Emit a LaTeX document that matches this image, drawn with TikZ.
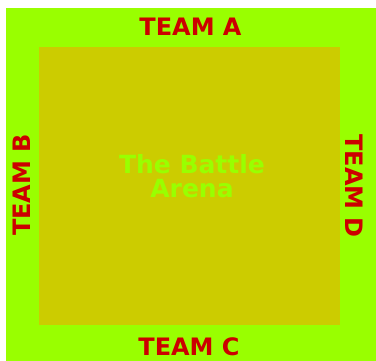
\documentclass[tikz,border=0pt]{standalone}
\usepackage{fontspec}
\setmainfont{DejaVu Sans}
\definecolor{FieldGreen}{RGB}{153, 255, 0}
\definecolor{ArenaOlive}{RGB}{204, 204, 0}
\definecolor{TeamRed}{RGB}{204, 0, 0}
\usepackage{tikz}
\usetikzlibrary{positioning}

\begin{document}
\begin{tikzpicture}[
    x=1pt, y=1pt,
    zone/.style={inner sep=0pt, outer sep=0pt},
    team/.style={inner sep=0pt, text=TeamRed, font=\fontsize{24}{24}\selectfont\bfseries},
    title/.style={inner sep=0pt, align=center, text=FieldGreen, font=\fontsize{25}{24}\selectfont\bfseries}
]
    \useasboundingbox (0,0) rectangle (376,361);
    \node[zone, fill=FieldGreen, minimum width=370pt, minimum height=353pt, anchor=south west] (field) at (6,0) {};
    \node[zone, fill=ArenaOlive, minimum width=301pt, minimum height=278pt, anchor=south west] (arena) at (39,36) {};

    \node[team] (teamA) at (190.5,334.5) {TEAM A};
    \node[team] (teamC) at (189,14) {TEAM C};
    \node[team, rotate=90] (teamB) at (21.5,176) {TEAM B};
    \node[team, rotate=-90] (teamD) at (354.5,175) {TEAM D};

    \node[title] (name) at (192,185) {The Battle\\Arena};
\end{tikzpicture}
\end{document}
